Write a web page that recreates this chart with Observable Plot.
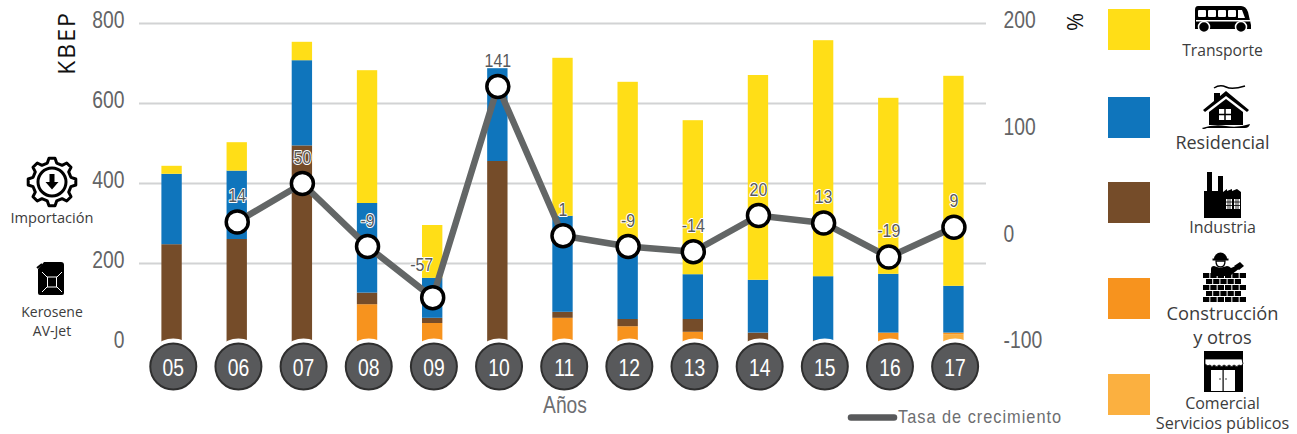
<!DOCTYPE html>
<html><head><meta charset="utf-8">
<script src="https://cdn.jsdelivr.net/npm/d3@7"></script>
<script src="https://cdn.jsdelivr.net/npm/@observablehq/plot@0.6"></script>
<style>
html,body{margin:0;padding:0;background:#fff}
#wrap{position:relative;width:1297px;height:434px;overflow:hidden}
#wrap svg{position:absolute;left:0;top:0;display:block}
#over text{font-family:"Open Sans",sans-serif;fill:#3c3c3c;text-anchor:middle}
#over text.n{font-family:"Liberation Sans",sans-serif;fill:#6d6e71}
</style></head><body><div id="wrap"></div>
<script>
const years=["05","06","07","08","09","10","11","12","13","14","15","16","17"];
const sectors=["Comercial","Construcción","Industria","Residencial","Transporte"];
const sectorColors=["#fbb040","#f7931e","#754c29","#0f75bc","#ffde17"];
const comercial=[0,0,0,0,0,0,0,0,0,0,0,0,22];
const construccion=[0,0,0,97,50,0,63,42,28,0,0,26,4];
const industria=[247,260,494,29,13,455,15,18,32,26,7,0,0];
const residencial=[176,171,213,224,100,232,240,195,112,132,160,147,117];
const transporte=[20,71,46,332,132,0,395,398,385,512,590,440,525];
const growth=[null,14,50,-9,-57,141,1,-9,-14,20,13,-19,9];
const leftTicks=[0,200,400,600,800];
const rightTicks=[-100,0,100,200];
const gridTicks=[200,400,600,800];

const series=[comercial,construccion,industria,residencial,transporte];
const stack=[];
series.forEach((vals,s)=>vals.forEach((v,i)=>stack.push({year:years[i],sector:sectors[s],value:v})));
const toLeft=d3.scaleLinear().domain([-100,200]).range([0,800]);
const rate=years.map((year,i)=>({year,g:growth[i]})).filter(d=>d.g!==null);
const axisBelow=-57.5;
const sans='"Liberation Sans",sans-serif';

const plot=Plot.plot({
  width:1297,height:434,
  marginTop:23,marginBottom:91,marginLeft:139,marginRight:311,
  style:{background:"transparent",fontFamily:sans,overflow:"visible"},
  x:{domain:years,padding:0,round:false,axis:null},
  y:{domain:[0,800],axis:null},
  color:{domain:sectors,range:sectorColors},
  marks:[
    Plot.gridY(gridTicks,{stroke:"#d2d3d4",strokeOpacity:1,strokeWidth:2}),
    Plot.axisY({anchor:"left",ticks:leftTicks,tickSize:0,tickPadding:15,label:null,fontSize:23,fill:"#636466",dy:-3}),
    Plot.axisY({anchor:"right",ticks:rightTicks.map(d=>toLeft(d)),tickFormat:d=>String(Math.round(toLeft.invert(d))),tickSize:0,tickPadding:17,label:null,fontSize:23,fill:"#636466",dy:-2.5}),
    Plot.barY(stack,{x:"year",y:"value",fill:"sector",order:sectors,insetLeft:22.4,insetRight:22.4}),
    Plot.dot(years,{x:d=>d,y:()=>axisBelow,r:28,fill:"#fff",stroke:null,dx:1.2}),
    Plot.dot(years,{x:d=>d,y:()=>axisBelow,r:23,fill:"#58595b",stroke:"#2f2f2f",strokeWidth:2,dx:1.2}),
    Plot.text(years,{x:d=>d,y:()=>axisBelow,text:d=>d,fill:"#fff",fontSize:23,dx:1.2,dy:2}),
    Plot.line(rate,{x:"year",y:d=>toLeft(d.g),stroke:"#636666",strokeWidth:6.5,curve:"linear"}),
    Plot.dot(rate,{x:"year",y:d=>toLeft(d.g),r:11,fill:"#fff",stroke:"#000",strokeWidth:3.5}),
    Plot.text(rate.filter(d=>d.g!==-57),{x:"year",y:d=>toLeft(d.g),text:d=>String(d.g),dy:-26,fontSize:19,fill:"#58595b",stroke:"#fff",strokeWidth:2,paintOrder:"stroke"}),
    Plot.text(rate.filter(d=>d.g===-57),{x:"year",y:d=>toLeft(d.g),text:d=>String(d.g),dy:-33,dx:-11,fontSize:19,fill:"#58595b",stroke:"#fff",strokeWidth:2,paintOrder:"stroke"})
  ]
});
const wrap=document.getElementById("wrap");
wrap.appendChild(plot);

function condense(el,ratio){const len=el.getComputedTextLength();el.setAttribute("textLength",(len*ratio).toFixed(1));el.setAttribute("lengthAdjust","spacingAndGlyphs");}
plot.querySelectorAll("text").forEach(t=>condense(t,.84));

function gearPath(cx,cy,n,ro,ri){let p=[];for(let i=0;i<n;i++){const a=i*2*Math.PI/n,w=Math.PI/n;
 [[ri,a-w*.62],[ro,a-w*.32],[ro,a+w*.32],[ri,a+w*.62]].forEach(([r,t])=>p.push([cx+r*Math.cos(t),cy+r*Math.sin(t)]));}
 return "M"+p.map(q=>q[0].toFixed(1)+","+q[1].toFixed(1)).join("L")+"Z";}
function bricks(){let s="";const rows=[[1203,1247,6],[1206,1242,5],[1203,1247,6],[1206,1242,5],[1203,1247,6]];
 rows.forEach((r,k)=>{const y=273+k*6,n=r[2],w=(r[1]-r[0])/n;for(let i=0;i<n;i++)s+=`<rect x="${r[0]+i*w}" y="${y}" width="${w-1}" height="5"/>`;});return s;}

const legendFill=[["#ffde17",9],["#0f75bc",97],["#754c29",182],["#f7931e",278],["#fbb040",374]];
const over=`<svg id="over" width="1297" height="434" viewBox="0 0 1297 434">
${legendFill.map(([c,y])=>`<rect x="1108" y="${y}" width="42" height="41" fill="${c}"/>`).join("")}
<text x="67" y="43" font-size="23" letter-spacing="2" transform="rotate(-90 67 43)" dy="8" style="fill:#111">KBEP</text>
<text x="1075" y="22" font-size="22" transform="rotate(-90 1075 22)" dy="8" style="fill:#111">%</text>
<text class="n" id="anos" x="565" y="413" font-size="24">Años</text>
<line x1="851" x2="894" y1="417.5" y2="417.5" stroke="#58595b" stroke-width="6.5" stroke-linecap="round"/>
<text class="n" id="tasa" x="898" y="423" font-size="19" letter-spacing="1.15" style="text-anchor:start">Tasa de crecimiento</text>
<text x="52" y="223" font-size="14.6">Importación</text>
<text x="52" y="317" font-size="14">Kerosene</text>
<text x="52" y="336" font-size="14">AV-Jet</text>
<text x="1222.5" y="56" font-size="15.7">Transporte</text>
<text x="1222.5" y="149" font-size="18">Residencial</text>
<text x="1222.5" y="233" font-size="16">Industria</text>
<text x="1222.5" y="320" font-size="18.3">Construcción</text>
<text x="1222.5" y="344" font-size="18.3">y otros</text>
<text x="1222.5" y="409" font-size="16">Comercial</text>
<text x="1222.5" y="429" font-size="16.2">Servicios públicos</text>
<path d="${gearPath(52,182,8,24,19.5)}" fill="#fff" stroke="#000" stroke-width="3" stroke-linejoin="round"/>
<circle cx="52" cy="182" r="14" fill="#fff" stroke="#000" stroke-width="3"/>
<path d="M49.5,174h5v8h4l-6.5,7.5l-6.5,-7.5h4z" fill="#000"/>
<path d="M44,262h17q3,0 3,3v28q0,2 -2,2h-22q-2,0 -2,-2v-24z" fill="#000"/>
<path d="M37,268l5,-4" stroke="#000" stroke-width="2"/>
<path d="M42,272l20,20M62,272l-20,20" stroke="#fff" stroke-width="1"/>
<rect x="47.5" y="277" width="9" height="10" fill="#000" stroke="#fff" stroke-width="1"/>
<path d="M1198,6h43q5,0 7,6l3,13v4h-56v-19q0,-4 3,-4z" fill="#000"/>
<g fill="#fff"><rect x="1198" y="10" width="8" height="7" rx="1"/><rect x="1208" y="10" width="8" height="7" rx="1"/><rect x="1218" y="10" width="8" height="7" rx="1"/><rect x="1228" y="10" width="8" height="7" rx="1"/><path d="M1238,10h4l3,8h-7z"/></g>
<rect x="1196" y="20" width="54" height="1.5" fill="#fff"/>
<circle cx="1204" cy="27" r="5.5" fill="#000" stroke="#fff" stroke-width="1.5"/><circle cx="1241" cy="27" r="5.5" fill="#000" stroke="#fff" stroke-width="1.5"/>
<path d="M1214,88q6,-4 12,-1t19,-1" fill="none" stroke="#000" stroke-width="1.5"/>
<path d="M1203,110l11,-9v-8h6v3l6,-5l23,19l-2,2l-21,-16l-21,16z" fill="#000"/>
<path d="M1209,112l17,-13l17,13v13h-34z" fill="#000"/>
<path d="M1202,128q12,-4 24,-2t24,-2q-1,4 -5,4h-38q-4,2 -5,0z" fill="#000"/>
<rect x="1219" y="109" width="12" height="11" fill="#fff"/><path d="M1225,109v11M1219,114.5h12" stroke="#000" stroke-width="1.5"/>
<path d="M1204,218v-27h3v-19h5v19h6v-15h5v15v1l4,-3v2l5,-2v2l5,-2l4,3v26z" fill="#000"/>
<g fill="#fff"><rect x="1226" y="199" width="6" height="10"/><rect x="1234" y="199" width="6" height="10"/></g>
<path d="M1226,202h14M1226,205.5h14M1228,199v10M1230,199v10M1236,199v10M1238,199v10" stroke="#000" stroke-width=".8"/>
<path d="M1214,259a6.5,6.5 0 0 1 13,0z" fill="#000"/>
<rect x="1212.5" y="258.5" width="16" height="2" fill="#000"/>
<path d="M1216,261h9q0,6 -4.5,6t-4.5,-6z" fill="none" stroke="#000" stroke-width="1.3"/>
<path d="M1211,273v-4q0,-3 3,-3l6,2l7,-2q2,0 4,2l7,-3l2,3l-9,7v1h-20z" fill="#000"/>
<path d="M1234,266l6,-4l4,4l-5,4z" fill="#000"/>
<g fill="#000">${bricks()}</g>
<rect x="1204" y="351" width="39" height="41" fill="#000"/>
<path d="M1205,359h37l1,5q-2,3 -4,1q-2,3 -5,0q-2,3 -5,0q-2,3 -5,0q-2,3 -5,0q-2,3 -5,0q-2,3 -4,0q-2,2 -5,-1z" fill="#fff" stroke="#000" stroke-width=".8"/>
<rect x="1211" y="370" width="24" height="21" fill="#fff"/><rect x="1222.5" y="370" width="1.2" height="21" fill="#000"/>
<circle cx="1220" cy="379" r=".7" fill="#000"/><circle cx="1226" cy="379" r=".7" fill="#000"/>
</svg>`;
wrap.insertAdjacentHTML("beforeend",over);
condense(document.getElementById("anos"),.8);
condense(document.getElementById("tasa"),.86);
</script></body></html>
